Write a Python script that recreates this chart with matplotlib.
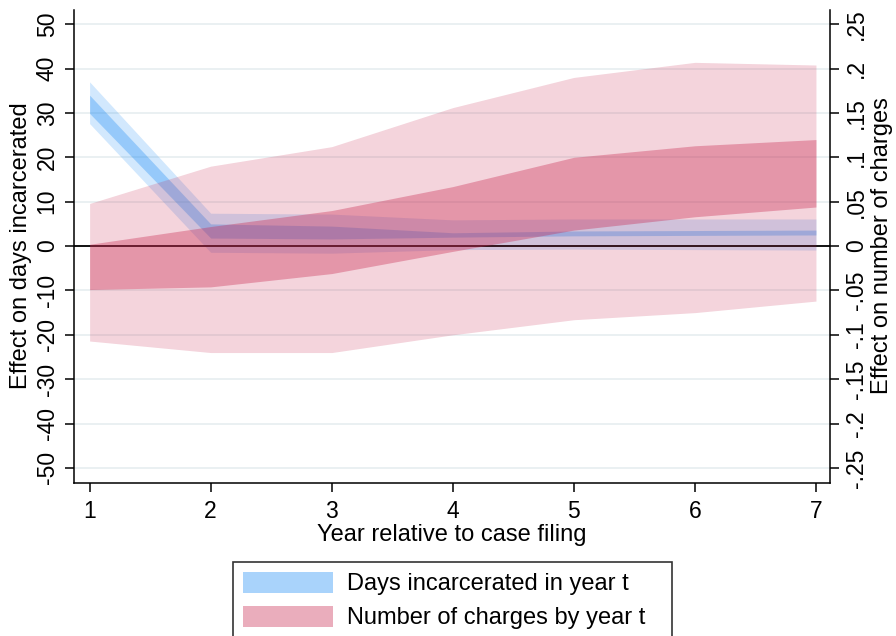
import matplotlib
matplotlib.use("Agg")
import matplotlib.pyplot as plt
from matplotlib.patches import Patch

plt.rcParams["font.family"] = ["Liberation Sans", "DejaVu Sans"]

# --- data ---
YEARS = [1, 2, 3, 4, 5, 6, 7]

# days incarcerated in year t (left axis), outer / inner bands
DAYS_OUTER_HI = [37.0, 7.4, 7.2, 5.9, 6.1, 6.1, 6.1]
DAYS_OUTER_LO = [27.6, -1.4, -1.6, -0.8, -0.7, -0.8, -0.9]
DAYS_INNER_HI = [34.0, 5.0, 4.5, 3.0, 3.4, 3.5, 3.6]
DAYS_INNER_LO = [29.9, 1.8, 1.6, 2.0, 2.3, 2.4, 2.5]

# number of charges by year t (right axis), outer / inner bands
CHG_OUTER_HI = [0.048, 0.090, 0.112, 0.156, 0.190, 0.207, 0.204]
CHG_OUTER_LO = [-0.107, -0.120, -0.120, -0.100, -0.083, -0.075, -0.062]
CHG_INNER_HI = [0.002, 0.022, 0.040, 0.067, 0.100, 0.113, 0.120]
CHG_INNER_LO = [-0.049, -0.046, -0.031, -0.006, 0.018, 0.033, 0.044]

LEFT_TICKS = [50, 40, 30, 20, 10, 0, -10, -20, -30, -40, -50]
LEFT_LABELS = [str(v) for v in LEFT_TICKS]
RIGHT_TICKS = [0.25, 0.2, 0.15, 0.1, 0.05, 0.0, -0.05, -0.1, -0.15, -0.2, -0.25]
RIGHT_LABELS = [".25", ".2", ".15", ".1", ".05", "0", "-.05", "-.1", "-.15", "-.2", "-.25"]

LEGEND_LABELS = ["Days incarcerated in year t", "Number of charges by year t"]

BLUE = (30 / 255, 140 / 255, 245 / 255)
RED = (200 / 255, 40 / 255, 80 / 255)
YLIM = (-53.4, 53.2)
SCALE = 200.0  # left units per right unit

W, H = 896, 636
fig = plt.figure(figsize=(W / 100, H / 100), dpi=100)
ax = fig.add_axes([74 / W, 1 - 483 / H, 756 / W, 473 / H])

# grid + blue bands on the left axis
for v in LEFT_TICKS:
    ax.axhline(v, color="#e8eff1", lw=1.3, zorder=0)
ax.fill_between(YEARS, DAYS_OUTER_LO, DAYS_OUTER_HI, color=BLUE, alpha=0.2, lw=0, zorder=1)
ax.fill_between(YEARS, DAYS_INNER_LO, DAYS_INNER_HI, color=BLUE, alpha=0.33, lw=0, zorder=2)
ax.axhline(0, color="black", lw=1.3, zorder=3)

ax.set_xlim(0.871, 7.116)
ax.set_ylim(*YLIM)
ax.set_xticks(YEARS)
ax.set_yticks(LEFT_TICKS)
ax.set_yticklabels(LEFT_LABELS, rotation=90, va="center")
ax.tick_params(axis="both", labelsize=16.5, length=6.5, width=1.1, color="black")
ax.tick_params(axis="y", pad=4.5)
ax.tick_params(axis="x", pad=6)
for s in ("top", "right"):
    ax.spines[s].set_visible(False)
for s in ("left", "bottom"):
    ax.spines[s].set_linewidth(1.1)

# red bands on the right axis
ax2 = ax.twinx()
ax2.fill_between(YEARS, CHG_OUTER_LO, CHG_OUTER_HI, color=RED, alpha=0.2, lw=0, zorder=1)
ax2.fill_between(YEARS, CHG_INNER_LO, CHG_INNER_HI, color=RED, alpha=0.36, lw=0, zorder=2)
ax2.set_ylim(YLIM[0] / SCALE, YLIM[1] / SCALE)
ax2.set_yticks(RIGHT_TICKS)
ax2.set_yticklabels(RIGHT_LABELS, rotation=90, va="center")
ax2.tick_params(axis="y", labelsize=16.5, length=6.5, width=1.1, pad=4.5)
for s in ("top", "left", "bottom"):
    ax2.spines[s].set_visible(False)
ax2.spines["right"].set_linewidth(1.1)

# axis titles
fig.text(21 / W, 1 - 246 / H, "Effect on days incarcerated", rotation=90,
         ha="center", va="center", fontsize=17)
fig.text(882 / W, 1 - 246 / H, "Effect on number of charges", rotation=90,
         ha="center", va="center", fontsize=17)
fig.text(452 / W, 1 - 535 / H, "Year relative to case filing",
         ha="center", va="center", fontsize=17)

# legend (runs off the bottom edge as in the original)
handles = [Patch(facecolor=BLUE, alpha=0.38, lw=0), Patch(facecolor=RED, alpha=0.38, lw=0)]
leg = fig.legend(handles, LEGEND_LABELS, loc="upper left", mode="expand",
                 bbox_to_anchor=(233 / W, 0, 439 / W, 1 - 562 / H), borderaxespad=0,
                 fontsize=17, handlelength=3.8, handleheight=0.97, handletextpad=0.6,
                 borderpad=0.42, labelspacing=0.45, fancybox=False, framealpha=1)
leg.get_frame().set_edgecolor("#333333")
leg.get_frame().set_linewidth(1.2)

fig.savefig("out.png", dpi=100)
